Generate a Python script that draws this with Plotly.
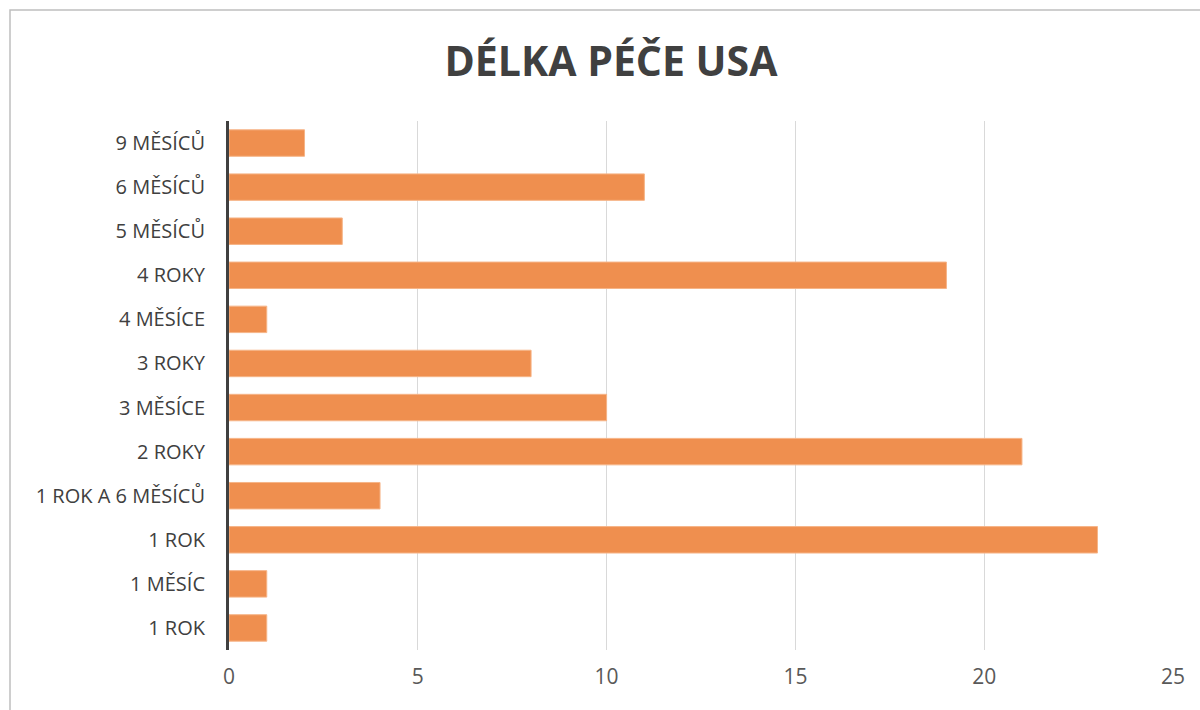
import plotly.graph_objects as go

categories = ["1 ROK", "1 MĚSÍC", "1 ROK", "1 ROK A 6 MĚSÍCŮ", "2 ROKY", "3 MĚSÍCE",
              "3 ROKY", "4 MĚSÍCE", "4 ROKY", "5 MĚSÍCŮ", "6 MĚSÍCŮ", "9 MĚSÍCŮ"]
values = [1, 1, 23, 4, 21, 10, 8, 1, 19, 3, 11, 2]
x_ticks = [0, 5, 10, 15, 20, 25]
title_text = "DÉLKA PÉČE USA"

positions = list(range(len(categories)))

fig = go.Figure()
fig.add_trace(go.Bar(
    x=values, y=positions, orientation="h", width=0.6,
    marker=dict(color="#EF8F4F", line=dict(color="#F6B487", width=1)),
    hoverinfo="x+text", text=categories, textposition="none",
))

fig.update_layout(
    width=1200, height=710,
    margin=dict(l=229, r=27, t=121, b=60),
    paper_bgcolor="white", plot_bgcolor="white",
    font=dict(family="Open Sans", size=20, color="#595959"),
    title=dict(text="<b>" + title_text + "</b>", x=611 / 1200, xref="container", xanchor="center",
               y=1 - 62 / 710, yref="container", yanchor="middle",
               font=dict(family="Open Sans", size=41, color="#404040")),
    showlegend=False,
    bargap=0.4,
)
fig.update_xaxes(range=[0, 25], tickvals=x_ticks, showgrid=True, gridcolor="#D9D9D9",
                 gridwidth=1, zeroline=False, showline=False, ticks="",
                 ticklabelstandoff=12, tickfont=dict(size=21, color="#595959"))
fig.update_yaxes(range=[-0.5, 11.5], tickvals=positions, ticktext=categories,
                 showgrid=False, zeroline=False, showline=True, linecolor="#404040",
                 linewidth=3, ticks="", ticklabelstandoff=17,
                 tickfont=dict(size=20, color="#404040"))

# chart border (frame of the chart area)
fig.add_shape(type="rect", xref="paper", yref="paper",
              x0=(10 - 229) / 944, x1=1.2, y0=-0.3, y1=1 + (121 - 10) / 529,
              line=dict(color="#BFBFBF", width=1.5), fillcolor="rgba(0,0,0,0)", layer="below")

fig.write_html("out.html")
